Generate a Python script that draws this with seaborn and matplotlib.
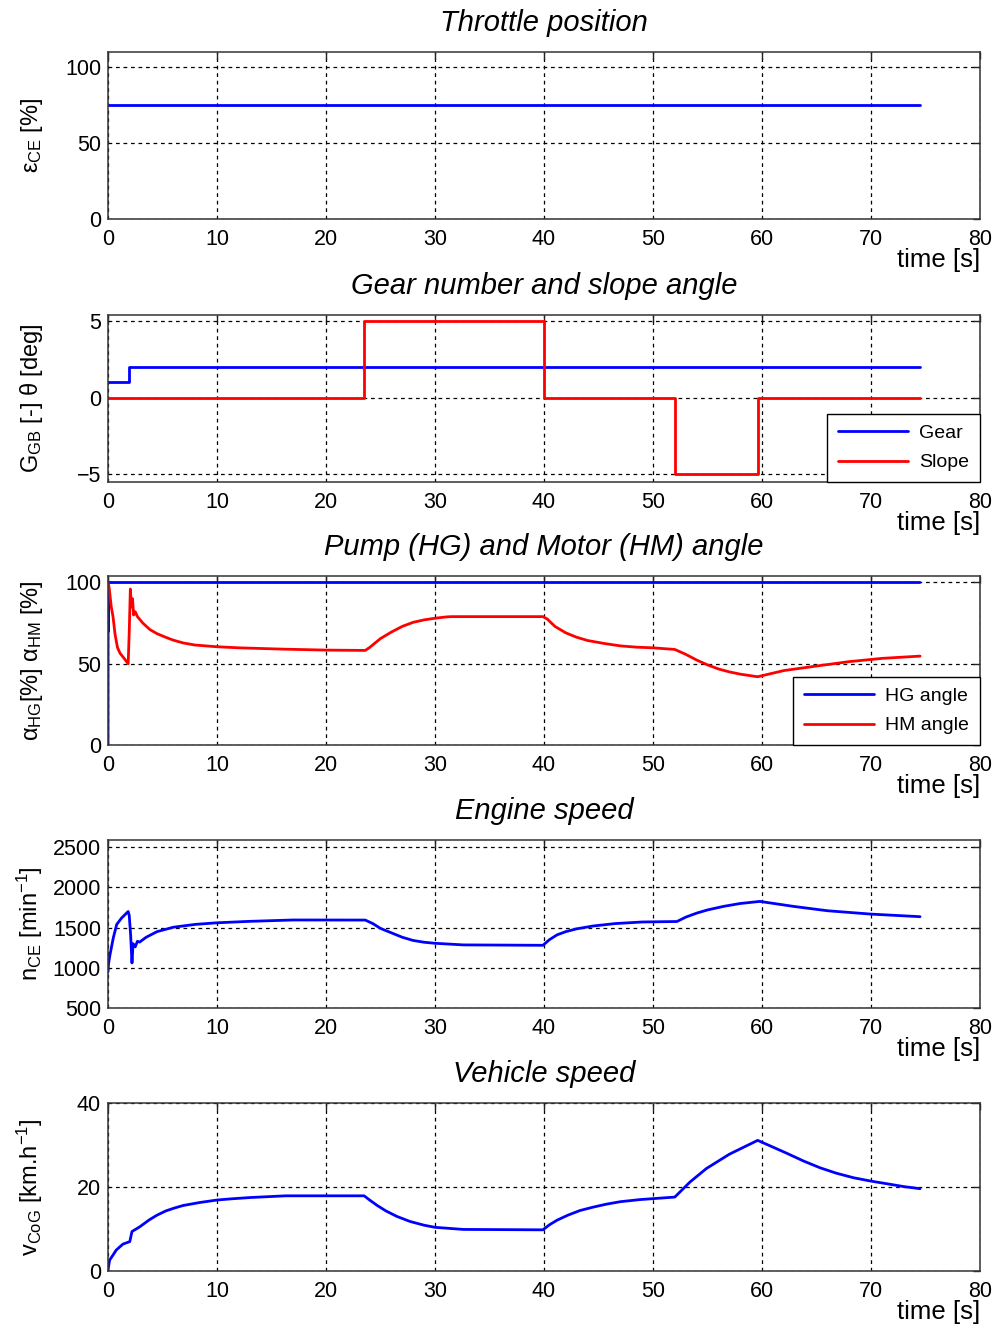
import numpy as np
import pandas as pd
import matplotlib
matplotlib.use("Agg")
import matplotlib.pyplot as plt
from matplotlib.lines import Line2D
import seaborn as sns

# ---- signals ----
t_end = 74.5

# throttle position [%]
throttle_t = [0.0, t_end]
throttle_v = [75.0, 75.0]

# gear number [-] and slope angle [deg] (piecewise constant)
gear_t = [0.0, 1.9, t_end]
gear_v = [1.0, 2.0, 2.0]
slope_t = [0.0, 23.5, 40.0, 52.0, 59.6, t_end]
slope_v = [0.0, 5.0, 0.0, -5.0, 0.0, 0.0]

# pump (HG) and motor (HM) displacement angle [%]
hg_t = [0.0, 0.01, 0.03, 0.06, 0.09, t_end]
hg_v = [0.0, 100.0, 70.0, 100.0, 100.0, 100.0]
hm_t = [0.0, 0.1, 0.3, 0.46, 0.65, 0.87, 1.1, 1.4, 1.85, 1.95, 2.05, 2.15, 2.25,
        2.35, 2.5, 2.7, 3.2, 3.85, 4.5, 5.4, 6.0, 6.9, 8.0, 9.9, 12.0, 16.0,
        20.0, 23.6, 24.0, 25.0, 26.0, 27.0, 28.0, 29.0, 30.0, 31.0, 31.5,
        39.9, 40.3, 41.0, 42.0, 43.0, 44.0, 45.5, 47.0, 48.5, 50.0, 52.0,
        53.0, 54.0, 55.0, 56.0, 57.0, 58.0, 59.6, 62.0, 65.0, 68.0, 71.0, t_end]
hm_v = [100.0, 97.0, 85.0, 79.0, 68.0, 60.0, 56.5, 54.0, 50.0, 70.0, 96.0, 85.0, 90.0,
        80.0, 82.0, 79.0, 75.0, 71.0, 68.5, 66.0, 64.5, 62.8, 61.5, 60.5, 59.8, 59.0,
        58.4, 58.2, 60.0, 65.5, 69.5, 73.0, 75.5, 77.0, 78.0, 78.8, 79.0,
        79.0, 77.5, 73.0, 69.0, 66.3, 64.3, 62.5, 61.0, 60.2, 59.8, 58.8,
        55.8, 52.3, 49.3, 46.8, 45.0, 43.6, 42.0, 45.8, 48.6, 51.3, 53.3, 54.7]

# engine speed [min^-1]
eng_t = [0.0, 0.05, 0.18, 0.49, 0.8, 1.25, 1.85, 1.95, 2.08, 2.2, 2.3, 2.5, 2.7,
         2.9, 3.5, 4.5, 6.0, 8.0, 10.0, 13.0, 17.0, 23.6, 24.3, 25.0, 26.0,
         27.0, 28.0, 29.0, 30.0, 32.6, 39.9, 40.5, 41.2, 42.0, 43.0, 44.5,
         46.5, 49.0, 52.2, 53.0, 54.0, 55.0, 56.5, 58.0, 59.8, 63.0, 66.0,
         70.0, t_end]
eng_v = [950.0, 1050.0, 1160.0, 1375.0, 1540.0, 1620.0, 1700.0, 1650.0, 1400.0, 1060.0,
         1300.0, 1260.0, 1330.0, 1320.0, 1380.0, 1450.0, 1505.0, 1540.0, 1560.0,
         1578.0, 1595.0, 1594.0, 1550.0, 1490.0, 1435.0, 1380.0, 1340.0, 1318.0,
         1305.0, 1285.0, 1280.0, 1350.0, 1410.0, 1450.0, 1485.0, 1520.0, 1550.0,
         1570.0, 1576.0, 1630.0, 1680.0, 1720.0, 1765.0, 1800.0, 1826.0, 1762.0,
         1710.0, 1668.0, 1636.0]

# vehicle speed [km/h]
veh_t = [0.0, 0.15, 0.46, 0.76, 1.37, 2.0, 2.2, 2.9, 3.8, 4.5, 5.3, 6.1, 6.9,
         8.4, 10.0, 11.4, 13.1, 16.3, 23.5, 24.0, 24.7, 25.5, 26.5, 27.7, 29.0,
         30.0, 32.6, 39.9, 40.5, 41.2, 42.2, 43.3, 44.5, 45.7, 47.0, 48.8,
         52.0, 53.4, 54.9, 57.0, 59.6, 61.0, 62.3, 63.8, 65.3, 66.8, 68.4,
         70.0, 71.4, 73.0, t_end]
veh_v = [0.2, 2.6, 3.8, 5.0, 6.4, 7.0, 9.4, 10.5, 12.2, 13.3, 14.3, 15.0, 15.6,
         16.3, 16.9, 17.2, 17.5, 17.9, 17.9, 16.9, 15.6, 14.3, 13.0, 11.8, 10.9,
         10.4, 9.9, 9.8, 11.0, 12.1, 13.3, 14.4, 15.2, 15.9, 16.5, 17.0,
         17.6, 21.2, 24.4, 27.8, 31.1, 29.5, 28.0, 26.2, 24.6, 23.3, 22.2,
         21.4, 20.8, 20.1, 19.6]

x_ticks = [0, 10, 20, 30, 40, 50, 60, 70, 80]

# ---- style ----
sns.set_theme(style="white")
plt.rcParams["font.family"] = ["Liberation Sans", "DejaVu Sans"]
plt.rcParams["mathtext.fontset"] = "custom"
plt.rcParams["mathtext.rm"] = "Liberation Sans"
plt.rcParams["mathtext.it"] = "Liberation Sans"
plt.rcParams["mathtext.cal"] = "Liberation Sans"

BLUE = "#0000ff"
RED = "#ff0000"
LW = 2.0

fig = plt.figure(figsize=(9.96, 13.28), dpi=100)
left, width = 108 / 996, 872 / 996
panels = [(52, 219), (315, 482), (576, 745), (840, 1008), (1103, 1271)]
axes = []
for top, bot in panels:
    axes.append(fig.add_axes([left, 1 - bot / 1328, width, (bot - top) / 1328]))


def line(ax, t, v, color, steps=False):
    df = pd.DataFrame({"t": t, "v": v})
    kw = {"drawstyle": "steps-post"} if steps else {}
    sns.lineplot(data=df, x="t", y="v", ax=ax, color=color, lw=LW,
                 estimator=None, sort=False, **kw)


def style(ax, title, ylabel, ylim, yticks):
    ax.set_xlim(0, 80)
    ax.set_ylim(*ylim)
    ax.set_xticks(x_ticks)
    ax.set_yticks(yticks)
    ax.tick_params(direction="in", top=True, right=True, labelsize=15.5,
                   length=5, width=1, colors="#222222", pad=5)
    ax.tick_params(axis="x", pad=7)
    for lab in ax.get_xticklabels() + ax.get_yticklabels():
        lab.set_color("black")
    ax.grid(True, color="black", linestyle=(0, (3, 3)), linewidth=0.9)
    ax.set_axisbelow(True)
    for sp in ax.spines.values():
        sp.set_color("#333333")
        sp.set_linewidth(1.1)
    ax.set_title(title, fontsize=21, style="italic", pad=15, color="black")
    ax.set_ylabel(ylabel, fontsize=17, color="black")
    ax.yaxis.set_label_coords(-0.072, 0.5)
    ax.set_xlabel("time [s]", fontsize=18.5, loc="right", labelpad=-1, color="black")


# throttle
ax = axes[0]
line(ax, throttle_t, throttle_v, BLUE)
style(ax, "Throttle position", r"$\epsilon_{\mathrm{CE}}$ [%]", (0, 110), [0, 50, 100])

# gear and slope
ax = axes[1]
line(ax, gear_t, gear_v, BLUE, steps=True)
line(ax, slope_t, slope_v, RED, steps=True)
style(ax, "Gear number and slope angle",
      r"$\mathrm{G}_{\mathrm{GB}}$ [-] $\theta$ [deg]", (-5.5, 5.4), [-5, 0, 5])

# pump and motor angle
ax = axes[2]
line(ax, hg_t, hg_v, BLUE)
line(ax, hm_t, hm_v, RED)
style(ax, "Pump (HG) and Motor (HM) angle",
      r"$\alpha_{\mathrm{HG}}$[%] $\alpha_{\mathrm{HM}}$ [%]", (0, 104), [0, 50, 100])

# engine speed
ax = axes[3]
line(ax, eng_t, eng_v, BLUE)
style(ax, "Engine speed", r"$\mathrm{n}_{\mathrm{CE}}$ [min$^{-1}$]", (500, 2590),
      [500, 1000, 1500, 2000, 2500])

# vehicle speed
ax = axes[4]
line(ax, veh_t, veh_v, BLUE)
style(ax, "Vehicle speed", r"$\mathrm{v}_{\mathrm{CoG}}$ [km.h$^{-1}$]", (0, 40), [0, 20, 40])


def legend(ax, names):
    handles = [Line2D([], [], color=BLUE, lw=LW), Line2D([], [], color=RED, lw=LW)]
    leg = ax.legend(handles, names, loc="lower right", borderaxespad=0,
                    fontsize=14, handlelength=3.6, frameon=True, fancybox=False,
                    framealpha=1, edgecolor="black", borderpad=0.55,
                    labelspacing=0.6, handletextpad=0.6)
    leg.get_frame().set_linewidth(1.0)
    for txt in leg.get_texts():
        txt.set_color("black")


legend(axes[1], ["Gear", "Slope"])
legend(axes[2], ["HG angle", "HM angle"])

fig.savefig("out.png", dpi=100)
